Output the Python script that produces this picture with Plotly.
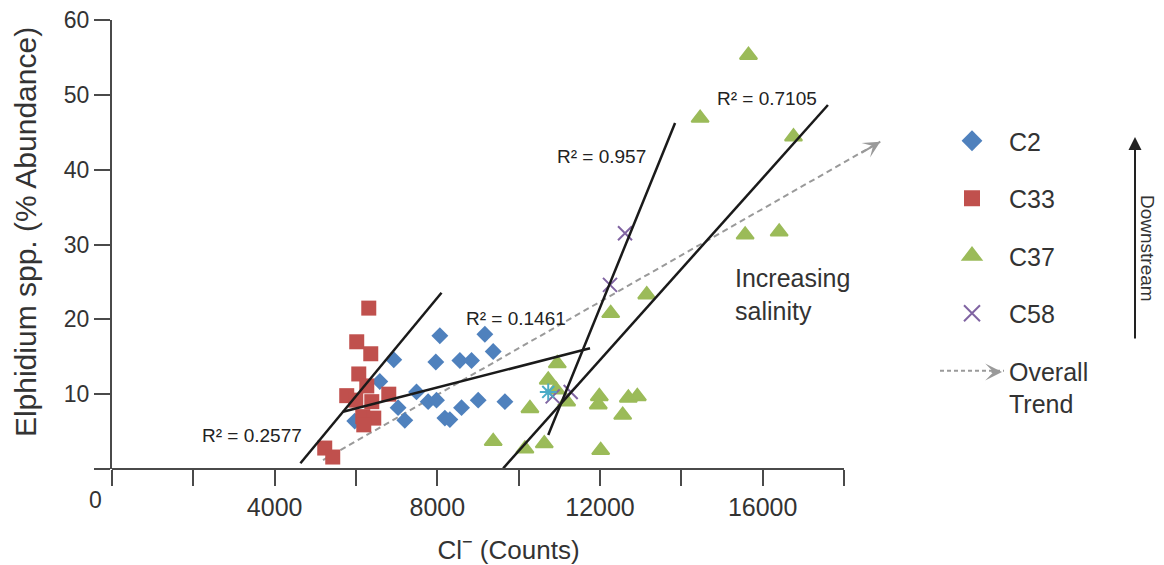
import plotly.graph_objects as go

# ---------------- data ----------------
c2_x = [8062, 9169, 9374, 6929, 7963, 8554, 8841, 6585, 7488, 7774, 7980,
        7035, 9005, 9662, 8595, 7200, 8185, 8308, 5969]
c2_y = [17.8, 18.0, 15.7, 14.6, 14.3, 14.5, 14.5, 11.7, 10.3, 9.0, 9.2,
        8.2, 9.2, 9.0, 8.2, 6.5, 6.8, 6.6, 6.4]

c33_x = [6314, 6018, 6363, 6068, 6265, 5772, 5994, 6806, 6388, 6166, 6437,
         6191, 5231, 5428]
c33_y = [21.5, 17.0, 15.4, 12.7, 11.1, 9.8, 9.2, 10.0, 9.0, 7.0, 6.8,
         5.9, 2.8, 1.6]

c37_x = [15651, 14462, 16758, 15569, 16406, 13149, 12263, 10950, 10727, 10917,
         10277, 11180, 11983, 11958, 12697, 12918, 12558, 10154, 10630, 12017, 9374]
c37_y = [55.3, 46.9, 44.4, 31.3, 31.7, 23.3, 20.8, 14.1, 11.9, 10.6,
         8.1, 9.0, 9.7, 8.6, 9.5, 9.7, 7.2, 2.7, 3.4, 2.5, 3.7]

c58_x = [12615, 12246, 10836, 11279]
c58_y = [31.5, 24.6, 9.7, 10.3]

extra_x = [10727]
extra_y = [10.3]

# trend lines (end points)
fit_c33_x, fit_c33_y = [4633, 8103], [0.76, 23.56]
fit_c2_x, fit_c2_y = [5681, 11754], [7.66, 16.13]
fit_c58_x, fit_c58_y = [10727, 13846], [4.54, 46.24]
fit_c37_x, fit_c37_y = [9620, 17605], [0.09, 48.64]
overall_x, overall_y = [5189, 18892], [1.2, 43.74]

r2_labels = ["R² = 0.2577", "R² = 0.1461", "R² = 0.957", "R² = 0.7105"]
r2_x = [3446, 9925, 12025, 16098]
r2_y = [4.5, 20.1, 41.7, 49.5]

series_names = ["C2", "C33", "C37", "C58"]
trend_name = "Overall<br>Trend"

x_ticks = [0, 2000, 4000, 6000, 8000, 10000, 12000, 14000, 16000, 18000]
x_ticktext = ["", "", "4000", "", "8000", "", "12000", "", "16000", ""]
y_ticks = [0, 10, 20, 30, 40, 50, 60]
y_ticktext = ["", "10", "20", "30", "40", "50", "60"]

# ---------------- styles ----------------
FONT = "Liberation Sans, Arial, sans-serif"
TXT = "#333333"
AX = "#4a4a4a"
BLUE, RED, GREEN, PURPLE, CYAN = "#4F81BD", "#C0504D", "#9BBB59", "#8064A2", "#4BACC6"
TREND = "#9a9a9a"

styles = [
    dict(symbol="diamond", size=13, color=BLUE),
    dict(symbol="square", size=15, color=RED),
    dict(symbol="triangle-up", size=15, color=GREEN, line=dict(color=GREEN, width=2)),
    dict(symbol="x-thin", size=14, color=PURPLE, line=dict(color=PURPLE, width=2)),
]
legend_styles = [
    dict(symbol="diamond", size=16, color=BLUE),
    dict(symbol="square", size=16, color=RED),
    dict(symbol="triangle-up", size=16, color=GREEN, line=dict(color=GREEN, width=2)),
    dict(symbol="x-thin", size=16, color=PURPLE, line=dict(color=PURPLE, width=2)),
]

fig = go.Figure()

# overall trend (dashed, beneath markers)
fig.add_trace(go.Scatter(x=overall_x, y=overall_y, mode="lines", showlegend=False,
                         line=dict(color=TREND, width=2, dash="6px,4px"),
                         cliponaxis=False))

for xs, ys, st in zip([c2_x, c33_x, c37_x, c58_x], [c2_y, c33_y, c37_y, c58_y], styles):
    fig.add_trace(go.Scatter(x=xs, y=ys, mode="markers", showlegend=False,
                             marker=st, cliponaxis=False))

fig.add_trace(go.Scatter(x=extra_x, y=extra_y, mode="markers", showlegend=False,
                         marker=dict(symbol="asterisk", size=14, color=CYAN,
                                     line=dict(color=CYAN, width=2)),
                         cliponaxis=False))

for fx, fy in [(fit_c33_x, fit_c33_y), (fit_c2_x, fit_c2_y),
               (fit_c58_x, fit_c58_y), (fit_c37_x, fit_c37_y)]:
    fig.add_trace(go.Scatter(x=fx, y=fy, mode="lines", showlegend=False,
                             line=dict(color="#1a1a1a", width=2.5),
                             cliponaxis=False))

# legend entries
for i, (nm, st) in enumerate(zip(series_names, legend_styles)):
    fig.add_trace(go.Scatter(x=[None], y=[None], mode="markers", name=nm,
                             legendgroup=nm, legendrank=i + 1, marker=st))
fig.add_trace(go.Scatter(x=[None], y=[None], mode="lines", name=trend_name,
                         legendgroup="trend", legendrank=5,
                         line=dict(color=TREND, width=2, dash="4px,3px")))

# trend arrowhead
fig.add_annotation(x=overall_x[1], y=overall_y[1], ax=overall_x[1] - 500,
                   ay=overall_y[1] - 1.6, xref="x", yref="y", axref="x", ayref="y",
                   text="", showarrow=True, arrowhead=3, arrowsize=1.4,
                   arrowwidth=2, arrowcolor=TREND)

for t, x, y in zip(r2_labels, r2_x, r2_y):
    fig.add_annotation(x=x, y=y, xref="x", yref="y", text=t, showarrow=False,
                       font=dict(size=19, color="#222222", family=FONT))

# shared origin label
fig.add_annotation(x=0, y=0, xref="x", yref="y", text="0", showarrow=False,
                   xshift=-17, yshift=-31, font=dict(size=23, color=TXT, family=FONT))

# increasing salinity
fig.add_annotation(x=(733 - 112) / 793, y=(469 - 262) / 449, xref="paper", yref="paper",
                   text="Increasing<br>salinity", showarrow=False, align="left",
                   xanchor="left", yanchor="top",
                   font=dict(size=25, color=TXT, family=FONT))

# legend arrowhead for the overall trend entry
fig.add_annotation(x=(1002 - 112) / 793, y=(469 - 372) / 449, xref="paper", yref="paper",
                   ax=-12, ay=0, text="", showarrow=True, arrowhead=3, arrowsize=1.4,
                   arrowwidth=2, arrowcolor=TREND)

# downstream arrow + text
fig.add_annotation(x=(1135 - 112) / 793, y=(469 - 137) / 449, xref="paper", yref="paper",
                   ax=0, ay=203, text="", showarrow=True, arrowhead=2, arrowsize=1.3,
                   arrowwidth=2, arrowcolor="#222222")
fig.add_annotation(x=(1148 - 112) / 793, y=(469 - 248) / 449, xref="paper", yref="paper",
                   text="Downstream", textangle=90, showarrow=False,
                   xanchor="center", yanchor="middle",
                   font=dict(size=19, color=TXT, family=FONT))

# x-axis line
fig.add_shape(type="line", xref="x", yref="paper", x0=0, x1=18000, y0=0, y1=0,
              line=dict(color=AX, width=2))

fig.update_layout(
    template="none",
    width=1164, height=565,
    margin=dict(l=112, r=259, t=20, b=96),
    paper_bgcolor="white", plot_bgcolor="white",
    font=dict(family=FONT, color=TXT),
    showlegend=True,
    legend=dict(x=(935 - 112) / 793, y=(469 - 118) / 449, xanchor="left", yanchor="top",
                font=dict(size=25, color=TXT, family=FONT), tracegroupgap=22,
                itemwidth=64, valign="top", bgcolor="rgba(0,0,0,0)",
                traceorder="grouped", itemsizing="trace"),
    xaxis=dict(range=[0, 19500], tickmode="array", tickvals=x_ticks, ticktext=x_ticktext,
               ticks="outside", ticklen=16, tickwidth=2, tickcolor=AX,
               showline=False, showgrid=False, zeroline=False,
               tickfont=dict(size=25, color=TXT, family=FONT),
               title=dict(text="Cl<sup>−</sup> (Counts)", standoff=22,
                          font=dict(size=26, color=TXT, family=FONT)),
               automargin=False),
    yaxis=dict(range=[0, 60], tickmode="array", tickvals=y_ticks, ticktext=y_ticktext,
               ticks="outside", ticklen=16, tickwidth=2, tickcolor=AX,
               showline=True, linecolor=AX, linewidth=2,
               showgrid=False, zeroline=False,
               tickfont=dict(size=23, color=TXT, family=FONT),
               title=dict(text="&nbsp;&nbsp;&nbsp;Elphidium spp. (% Abundance)", standoff=18,
                          font=dict(size=30, color=TXT, family=FONT)),
               automargin=False),
)

fig.write_html("out.html")
